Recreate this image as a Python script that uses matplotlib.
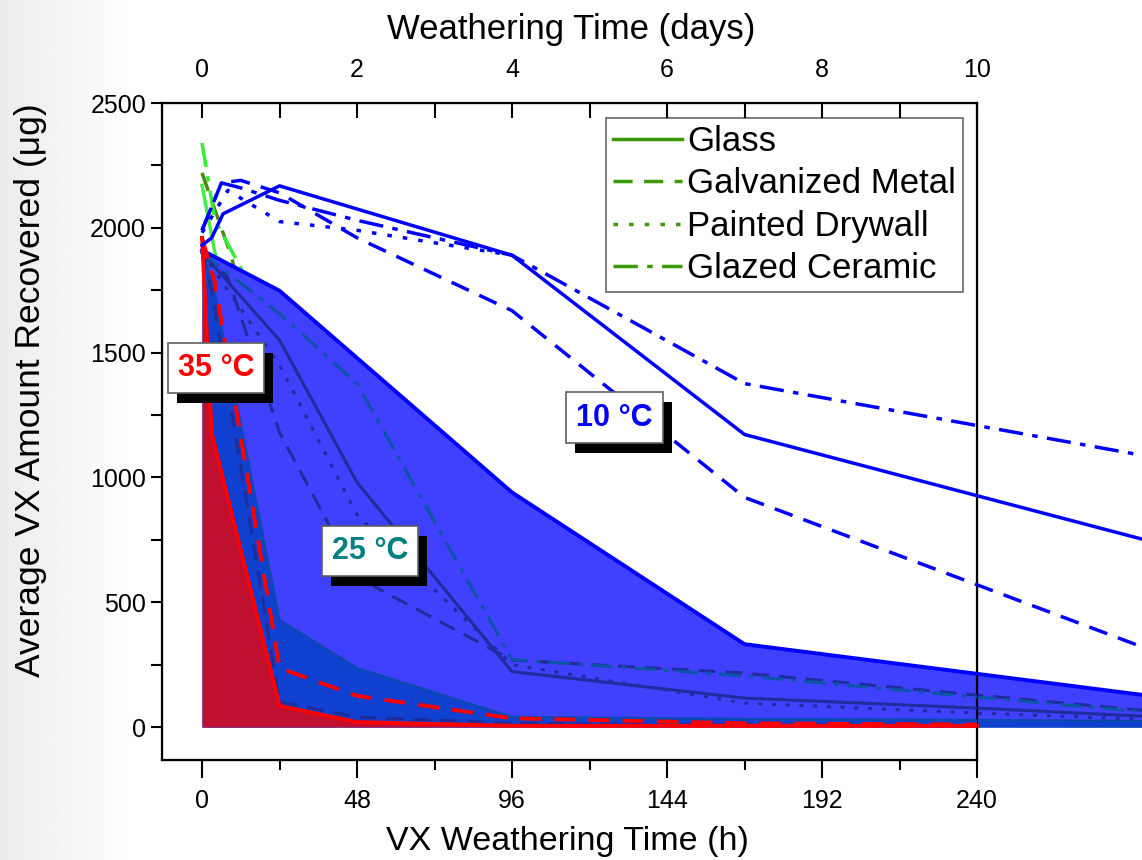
import numpy as np
import matplotlib.pyplot as plt
import matplotlib.patheffects as pe
from matplotlib.lines import Line2D

plt.rcParams['font.family'] = ['Liberation Sans', 'DejaVu Sans']

# ---- data (hours, µg) ----
# 10 °C
h10_glass = [0, 3, 6.5, 24, 96, 168, 336]
v10_glass = [1930, 1960, 2056, 2168, 1890, 1172, 600]
h10_galv = [0, 6, 12, 24, 48, 96, 168, 336]
v10_galv = [1990, 2180, 2190, 2140, 1960, 1668, 920, 103]
h10_dry = [0, 8, 24, 48, 96]
v10_dry = [1980, 2150, 2025, 1990, 1890]
h10_cer = [0, 6, 12, 24, 48, 96, 168, 336]
v10_cer = [1990, 2180, 2160, 2110, 2030, 1890, 1376, 984]

# 25 °C
h25_env = [0, 24, 96, 168, 336]
v25_env = [1910, 1748, 940, 332, 55]
h25_glass = [0, 24, 48, 96, 168, 240, 336]
v25_glass = [1900, 1550, 980, 222, 116, 76, 15]
h25_galv = [0, 8, 24, 48, 96, 168, 240, 336]
v25_galv = [1900, 1800, 1180, 600, 268, 216, 128, 14]
h25_dry = [0, 24, 48, 96, 168, 240, 336]
v25_dry = [1900, 1450, 850, 250, 96, 56, 10]
h25_cer = [0, 24, 48, 96, 168, 240, 336]
v25_cer = [1900, 1656, 1376, 270, 205, 120, 10]

# 35 °C
h35_env = [0, 3, 24, 48, 96, 168, 240, 336]
v35_env = [1900, 1800, 428, 236, 40, 32, 28, 20]
h35_other = [0, 3, 24, 48, 96, 168, 240]
v35_other = [1900, 1750, 100, 40, 15, 10, 5]
h35_glass = [0, 3, 24, 48, 96, 168, 240]
v35_glass = [1960, 1175, 85, 20, 5, 5, 5]
h35_galv = [0, 4, 24, 48, 96, 168, 240]
v35_galv = [1960, 1780, 236, 125, 35, 15, 10]

# green series
hg_dd = [0, 4, 12, 24, 48, 96, 336]
vg_dd = [2340, 2030, 1840, 1500, 600, 20, 2]
hg_dash = [0, 3, 8.7, 24, 96, 336]
vg_dash = [2220, 2108, 1900, 1200, 20, 2]
hg_solid = [0, 4, 24, 96, 336]
vg_solid = [2170, 1900, 900, 10, 2]

legend_labels = ['Glass', 'Galvanized Metal', 'Painted Drywall', 'Glazed Ceramic']

# ---- figure ----
fig = plt.figure(figsize=(11.42, 8.6), dpi=100)

# faint grey gradient at the left edge
bg = fig.add_axes([0, 0, 1, 1], zorder=-10)
grad = np.linspace(0, 1, 400)
shade = 0.925 + 0.075 * np.clip(grad / 0.12, 0, 1)
bg.imshow(np.tile(shade, (10, 1)), cmap='gray', vmin=0, vmax=1, aspect='auto',
          extent=[0, 1, 0, 1])
bg.axis('off')

ax = fig.add_axes([0.14186, 0.11628, 0.71366, 0.76395])
ax.patch.set_alpha(0)

DASH = (0, (5.5, 3.3))
DOT = (0, (1.3, 3.2))
DASHDOT = (0, (7, 2.7, 1.6, 2.7))
LW = 2.5

# green lines (underneath)
ax.plot(hg_solid, vg_solid, color='#44EE44', lw=LW, clip_on=False, zorder=1)
ax.plot(hg_dash, vg_dash, color='#4A8A10', lw=LW, ls=DASH, clip_on=False, zorder=1)
ax.plot(hg_dd, vg_dd, color='#33EE33', lw=LW, ls=DASHDOT, clip_on=False, zorder=1)

# 25 °C fill and lines
ax.fill_between(h25_env, v25_env, 0, color='#4040FF', lw=0, clip_on=False, zorder=2)
navy = '#1E2C9C'
teal = '#0A55A5'
ax.plot(h25_glass, v25_glass, color=navy, lw=2.2, clip_on=False, zorder=3)
ax.plot(h25_galv, v25_galv, color=navy, lw=2.2, ls=DASH, clip_on=False, zorder=3)
ax.plot(h25_dry, v25_dry, color=navy, lw=2.2, ls=DOT, clip_on=False, zorder=3)
ax.plot(h25_cer, v25_cer, color=teal, lw=2.2, ls=DASHDOT, clip_on=False, zorder=3)
ax.plot(h25_env, v25_env, color='#0000FF', lw=2.8, clip_on=False, zorder=4)

# 35 °C
ax.fill_between(h35_env, v35_env, 0, color='#1040D0', lw=0, clip_on=False, zorder=4)
ax.plot(h35_env, v35_env, color='#0A4AB0', lw=1.8, clip_on=False, zorder=4)
ax.plot(h35_other, v35_other, color=navy, lw=2.2, ls=DASH, clip_on=False, zorder=4)
ax.fill_between(h35_glass, v35_glass, 0, color='#C01030', lw=0, clip_on=False, zorder=5)
ax.plot(h35_glass, v35_glass, color='#FF0000', lw=2.8, clip_on=False, zorder=6)
ax.plot(h35_galv, v35_galv, color='#FF0000', lw=2.8, ls=DASH, clip_on=False, zorder=6)

# 10 °C
blue = '#0000FF'
ax.plot(h10_glass, v10_glass, color=blue, lw=LW, clip_on=False, zorder=7)
ax.plot(h10_galv, v10_galv, color=blue, lw=LW, ls=DASH, clip_on=False, zorder=7)
ax.plot(h10_dry, v10_dry, color=blue, lw=LW, ls=DOT, clip_on=False, zorder=7)
ax.plot(h10_cer, v10_cer, color=blue, lw=LW, ls=DASHDOT, clip_on=False, zorder=7)

# axes
ax.set_xlim(-12.4, 240)
ax.set_ylim(-132, 2500)
ax.set_xticks(np.arange(0, 241, 48))
ax.set_xticks(np.arange(0, 241, 24), minor=True)
ax.set_yticks(np.arange(0, 2501, 500))
ax.set_yticks(np.arange(0, 2501, 250), minor=True)
ax.tick_params(axis='x', which='major', direction='out', length=13, width=1.5, labelsize=18, pad=8)
ax.tick_params(axis='x', which='minor', direction='out', length=7, width=1.5)
ax.tick_params(axis='y', which='both', direction='out', length=8, width=1.5, labelsize=18)
for s in ax.spines.values():
    s.set_linewidth(1.6)
ax.set_xlabel('VX Weathering Time (h)', fontsize=24.5)
ax.xaxis.set_label_coords(0.497, -0.101)
ax.set_ylabel('Average VX Amount Recovered (μg)', fontsize=25.5)
ax.yaxis.set_label_coords(-0.141, 0.563)

ax2 = ax.twiny()
ax2.set_xlim(-12.4 / 24, 10)
ax2.set_xticks(np.arange(0, 11, 2))
ax2.set_xticks(np.arange(0, 11, 1), minor=True)
ax2.tick_params(which='both', direction='in', length=11, width=1.5, labelsize=18, pad=15)
ax2.set_xlabel('Weathering Time (days)', fontsize=25)
ax2.xaxis.set_label_coords(0.502, 1.097)

# temperature labels, white boxes with a solid black drop shadow
labels = [(4.3, 1440, '35 °C', '#FF0000'),
          (52, 706, '25 °C', '#008080'),
          (127.8, 1240, '10 °C', '#0000FF')]
for x, y, txt, col in labels:
    t = ax.text(x, y, txt, color=col, fontsize=22, weight='bold', ha='center', va='center',
                zorder=10, bbox=dict(boxstyle='square,pad=0.33', fc='white', ec='#606060', lw=1.2))
    t.get_bbox_patch().set_path_effects([
        pe.SimplePatchShadow(offset=(6.5, -7.2), shadow_rgbFace='black', alpha=1.0),
        pe.Normal()])

# legend
lg_col = '#3A9A00'
handles = [Line2D([], [], color=lg_col, lw=LW),
           Line2D([], [], color=lg_col, lw=LW, ls=DASH),
           Line2D([], [], color=lg_col, lw=LW, ls=DOT),
           Line2D([], [], color=lg_col, lw=LW, ls=DASHDOT)]
leg = ax.legend(handles, legend_labels, loc='upper right', bbox_to_anchor=(0.983, 0.977),
                borderaxespad=0, fontsize=25, frameon=True, fancybox=False,
                handlelength=2.0, handletextpad=0.15, labelspacing=0.27,
                borderpad=0.2)
leg.get_frame().set_edgecolor('#404040')
leg.get_frame().set_linewidth(1.2)
leg.set_zorder(20)

fig.savefig('out.png', dpi=100)
